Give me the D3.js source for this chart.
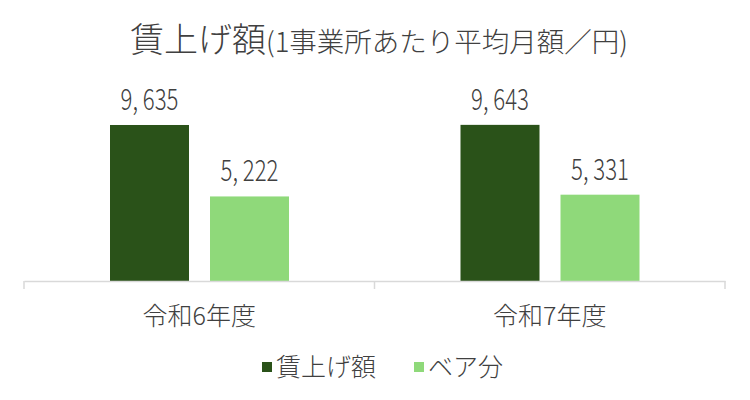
<!DOCTYPE html>
<html>
<head>
<meta charset="utf-8">
<script src="https://cdn.jsdelivr.net/npm/d3@7"></script>
<style>
  body { margin: 0; background: #fff; }
  text { font-family: "Noto Sans CJK JP", "Noto Sans", sans-serif; fill: #404040; font-weight: 300; }
</style>
</head>
<body>
<div id="viz"></div>
<script>
const width = 750;
const height = 400;
const margin = {top: 87, right: 25, bottom: 119, left: 24};

// data
const categories = ['令和6年度', '令和7年度'];
const seriesKeys = ['賃上げ額', 'ベア分'];
const seriesColors = ['#2a5219', '#8fd97a'];
const wageRaise = [9635, 9643];
const baseUp = [5222, 5331];

const data = categories.map((c, i) => ({
  category: c,
  values: [wageRaise[i], baseUp[i]]
}));

const svg = d3.select('#viz')
  .append('svg')
    .attr('width', width)
    .attr('height', height);

// title
const title = svg.append('text')
  .attr('x', 379)
  .attr('y', 52)
  .attr('text-anchor', 'middle');
title.append('tspan').style('font-size', '34px').text('賃上げ額');
title.append('tspan').style('font-size', '27.5px').text('(1事業所あたり平均月額／円)');

// scales
const scaleX = d3.scaleBand()
  .domain(categories)
  .range([margin.left, width - margin.right])
  .paddingInner(0)
  .paddingOuter(0);

const scaleX1 = d3.scaleBand()
  .domain(seriesKeys)
  .range([86, 265])
  .paddingInner(0.21)
  .paddingOuter(0);

const scaleY = d3.scaleLinear()
  .domain([0, 12000])
  .range([height - margin.bottom, height - margin.bottom - 194.3]);

const scaleColor = d3.scaleOrdinal()
  .domain(seriesKeys)
  .range(seriesColors);

// bars
const groups = svg.append('g')
  .selectAll('g')
  .data(data)
  .join('g')
    .attr('transform', d => `translate(${scaleX(d.category)},0)`);

groups.selectAll('rect')
  .data(d => d.values.map((v, i) => ({key: seriesKeys[i], value: v})))
  .join('rect')
    .attr('x', d => scaleX1(d.key))
    .attr('y', d => scaleY(d.value))
    .attr('width', scaleX1.bandwidth())
    .attr('height', d => scaleY(0) - scaleY(d.value))
    .attr('fill', d => scaleColor(d.key));

// value labels (condensed look)
groups.selectAll('text.value')
  .data(d => d.values.map((v, i) => ({key: seriesKeys[i], value: v})))
  .join('text')
    .attr('class', 'value')
    .attr('transform', d => `translate(${scaleX1(d.key) + scaleX1.bandwidth() / 2},${scaleY(d.value) - 15}) scale(0.74,1)`)
    .attr('text-anchor', 'middle')
    .style('font-size', '30px')
    .text(d => d3.format(',')(d.value).replace(',', ', '));

// x axis
const axisBottom = d3.axisBottom(scaleX)
  .tickSize(0)
  .tickPadding(26);
const xAxis = svg.append('g')
  .attr('transform', `translate(0,${scaleY(0)})`)
  .call(axisBottom);
xAxis.select('.domain').attr('stroke', '#d9d9d9').attr('stroke-width', 1.5);
xAxis.selectAll('.tick text')
  .style('font-size', '25px')
  .style('font-family', '"Noto Sans CJK JP", sans-serif')
  .style('font-weight', 300)
  .attr('fill', '#404040');

// tick marks at band boundaries
const boundaries = [...categories.map(c => scaleX(c)), scaleX.range()[1]];
xAxis.selectAll('line.sep')
  .data(boundaries)
  .join('line')
    .attr('class', 'sep')
    .attr('x1', d => d)
    .attr('x2', d => d)
    .attr('y1', 0)
    .attr('y2', 8)
    .attr('stroke', '#d9d9d9')
    .attr('stroke-width', 1.5);

// legend
const legendPos = [262, 414];
const legend = svg.append('g')
  .selectAll('g')
  .data(seriesKeys)
  .join('g')
    .attr('transform', (d, i) => `translate(${legendPos[i]},367)`);
legend.append('rect')
  .attr('x', 0)
  .attr('y', -5)
  .attr('width', 10)
  .attr('height', 10)
  .attr('fill', d => scaleColor(d));
legend.append('text')
  .attr('x', 14)
  .attr('y', 9)
  .style('font-size', '25px')
  .text(d => d);
</script>
</body>
</html>
